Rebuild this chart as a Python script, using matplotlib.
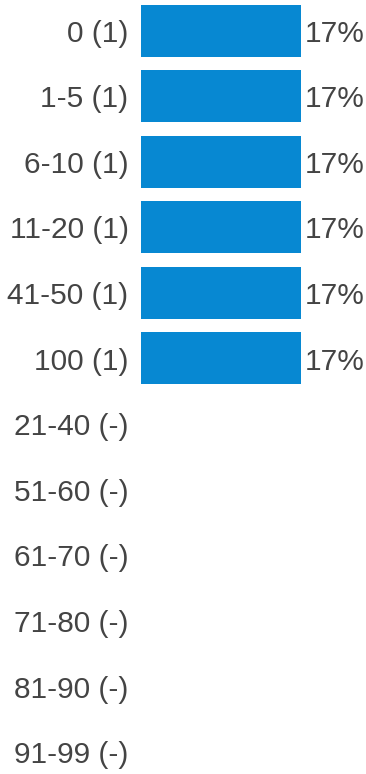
import matplotlib
matplotlib.use("Agg")
import matplotlib.pyplot as plt

categories = ["0", "1-5", "6-10", "11-20", "41-50", "100",
              "21-40", "51-60", "61-70", "71-80", "81-90", "91-99"]
counts = [1, 1, 1, 1, 1, 1, None, None, None, None, None, None]
percents = [17, 17, 17, 17, 17, 17, 0, 0, 0, 0, 0, 0]

labels = [f"{c} ({n if n is not None else '-'})" for c, n in zip(categories, counts)]

W, H = 366, 774
dpi = 100
fig = plt.figure(figsize=(W / dpi, H / dpi), dpi=dpi)
spacing = 65.6
first = 30.5
n = len(categories)
top_px = first - spacing / 2
height_px = spacing * n
left_px, width_px = 141, 160
ax = fig.add_axes([left_px / W, 1 - (top_px + height_px) / H, width_px / W, height_px / H])

ys = list(range(n))
bar_color = "#0788d2"
text_color = "#444444"
fs = 21.5
ax.barh(ys, percents, height=52 / spacing, color=bar_color)
ax.set_xlim(0, 17)
ax.set_ylim(n - 0.5, -0.5)
ax.set_yticks(ys)
ax.set_yticklabels(labels, fontsize=fs, color=text_color, family="Liberation Sans")
ax.tick_params(axis="y", length=0, pad=9)
ax.set_xticks([])
for s in ax.spines.values():
    s.set_visible(False)
for y, p, c in zip(ys, percents, counts):
    if c is not None:
        ax.annotate(f"{p}%", xy=(p, y), xytext=(2.5, 0), textcoords="offset points",
                    va="center_baseline", ha="left", fontsize=fs, color=text_color,
                    family="Liberation Sans")
fig.savefig("out.png", dpi=dpi)
